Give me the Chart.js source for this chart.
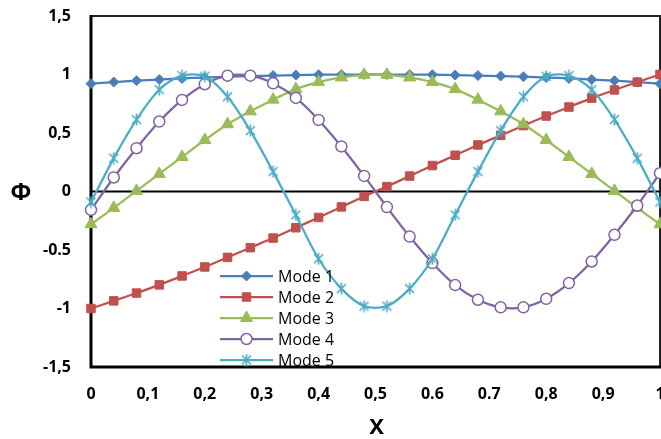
<!DOCTYPE html>
<html>
<head>
<meta charset="utf-8">
<script src="https://cdn.jsdelivr.net/npm/chart.js@4"></script>
<style>
html,body{margin:0;padding:0;background:#fff;}
#wrap{width:661px;height:439px;position:relative;}
</style>
</head>
<body>
<div id="wrap"><canvas id="c" width="661" height="439"></canvas></div>
<script>
// ---- data ----
const xValues = [0,0.04,0.08,0.12,0.16,0.2,0.24,0.28,0.32,0.36,0.4,0.44,0.48,0.52,0.56,0.6,0.64,0.68,0.72,0.76,0.8,0.84,0.88,0.92,0.96,1];
const mode1 = [0.922,0.935,0.947,0.957,0.966,0.974,0.981,0.987,0.991,0.995,0.998,0.999,1.0,1.0,0.999,0.998,0.995,0.991,0.987,0.981,0.974,0.966,0.957,0.947,0.935,0.922];
const mode2 = [-1.0,-0.935,-0.868,-0.798,-0.722,-0.645,-0.563,-0.48,-0.398,-0.31,-0.222,-0.132,-0.042,0.042,0.132,0.222,0.31,0.398,0.48,0.563,0.645,0.722,0.798,0.868,0.935,1.0];
const mode3 = [-0.28,-0.14,0.005,0.15,0.295,0.44,0.575,0.685,0.785,0.875,0.935,0.975,0.997,0.997,0.975,0.935,0.875,0.785,0.685,0.575,0.44,0.295,0.15,0.005,-0.14,-0.28];
const mode4 = [-0.157,0.12,0.37,0.598,0.783,0.917,0.99,0.99,0.925,0.80,0.612,0.385,0.133,-0.133,-0.385,-0.612,-0.80,-0.925,-0.99,-0.99,-0.917,-0.783,-0.598,-0.37,-0.12,0.157];
const mode5 = [-0.09,0.285,0.615,0.87,0.99,0.985,0.81,0.52,0.17,-0.2,-0.575,-0.83,-0.98,-0.98,-0.83,-0.575,-0.2,0.17,0.52,0.81,0.985,0.99,0.87,0.615,0.285,-0.09];
const seriesNames = ['Mode 1','Mode 2','Mode 3','Mode 4','Mode 5'];
const xTicks = [0,0.1,0.2,0.3,0.4,0.5,0.6,0.7,0.8,0.9,1];
const xTickLabels = ['0','0,1','0,2','0,3','0,4','0,5','0.6','0.7','0,8','0,9','1'];
const yTicks = [-1.5,-1,-0.5,0,0.5,1,1.5];
const yTickLabels = ['-1,5','-1','-0.5','0','0,5','1','1,5'];
const xTitle = 'X';
const yTitle = 'Φ';

// ---- styles ----
const colors = ['#4A7EBB','#C0504D','#9BBB59','#8064A2','#4BACC6'];
const FONT = '"Open Sans", "Noto Sans", sans-serif';
const TFONT = '"Noto Sans", "DejaVu Sans", sans-serif';

function starMarker(color){
  const c = document.createElement('canvas');
  c.width = 13; c.height = 13;
  const g = c.getContext('2d');
  g.strokeStyle = color; g.lineWidth = 1.6; g.lineCap = 'butt';
  g.beginPath();
  g.moveTo(2,2); g.lineTo(11,11);
  g.moveTo(11,2); g.lineTo(2,11);
  g.moveTo(6.5,0.5); g.lineTo(6.5,12.5);
  g.stroke();
  return c;
}

const allSeries = [mode1,mode2,mode3,mode4,mode5];
const markerStyles = [
  {pointStyle:'rectRot', radius:5, bg:colors[0]},
  {pointStyle:'rect', radius:6, bg:colors[1]},
  {pointStyle:'triangle', radius:7, bg:colors[2]},
  {pointStyle:'circle', radius:5.5, bg:'#ffffff'},
  {pointStyle:starMarker(colors[4]), radius:6.5, bg:colors[4]}
];

const datasets = allSeries.map((vals,i)=>({
  label: seriesNames[i],
  data: xValues.map((x,j)=>({x:x,y:vals[j]})),
  borderColor: colors[i],
  backgroundColor: markerStyles[i].bg,
  borderWidth: 2.25,
  pointStyle: markerStyles[i].pointStyle,
  pointRadius: markerStyles[i].radius,
  pointBorderColor: colors[i],
  pointBackgroundColor: markerStyles[i].bg,
  pointBorderWidth: i===3 ? 1.5 : 1,
  tension: 0.3,
  clip: false,
  order: 5 - i
}));

const framePlugin = {
  id:'frame',
  beforeDatasetsDraw(chart){
    const {ctx, chartArea:a, scales} = chart;
    const y0 = scales.y.getPixelForValue(0);
    ctx.save();
    ctx.strokeStyle = '#000';
    ctx.lineWidth = 2;
    ctx.beginPath(); ctx.moveTo(a.left, y0); ctx.lineTo(a.right, y0); ctx.stroke();
    ctx.strokeStyle = '#222';
    ctx.lineWidth = 2;
    ctx.beginPath();
    ctx.moveTo(a.left, a.top); ctx.lineTo(a.right, a.top); ctx.lineTo(a.right, a.bottom);
    ctx.stroke();
    ctx.strokeStyle = '#000';
    ctx.lineWidth = 3;
    ctx.beginPath();
    ctx.moveTo(a.left, a.top-1); ctx.lineTo(a.left, a.bottom); ctx.lineTo(a.right+1, a.bottom);
    ctx.stroke();
    ctx.restore();
  },
  afterDraw(chart){
    const {ctx, chartArea:a} = chart;
    ctx.save();
    ctx.fillStyle = '#000';
    ctx.font = 'bold 23px ' + TFONT;
    ctx.textAlign = 'center'; ctx.textBaseline = 'middle';
    ctx.fillText(yTitle, 21, 193);
    ctx.font = 'bold 22px ' + TFONT;
    ctx.fillText(xTitle, (a.left + a.right)/2 + 1, 428);
    // legend
    const lx0 = 220, lx1 = 273, ty = 276, step = 21;
    ctx.font = '16px ' + FONT;
    ctx.textAlign = 'left';
    chart.data.datasets.forEach((ds,i)=>{
      const y = ty + i*step;
      ctx.strokeStyle = ds.borderColor; ctx.lineWidth = 2.25;
      ctx.beginPath(); ctx.moveTo(lx0,y); ctx.lineTo(lx1,y); ctx.stroke();
      ctx.fillStyle = ds.pointBackgroundColor; ctx.strokeStyle = ds.pointBorderColor;
      ctx.lineWidth = ds.pointBorderWidth;
      Chart.helpers.drawPoint(ctx, {pointStyle: ds.pointStyle, radius: ds.pointRadius, borderWidth: ds.pointBorderWidth, rotation:0}, (lx0+lx1)/2, y);
      ctx.fillStyle = '#000';
      ctx.fillText(ds.label, 278, y+1);
    });
    ctx.restore();
  }
};

new Chart(document.getElementById('c'), {
  type:'line',
  data:{datasets},
  plugins:[framePlugin],
  options:{
    responsive:false,
    animation:false,
    events:[],
    layout:{autoPadding:false, padding:{top:16,right:1,left:0,bottom:0}},
    plugins:{legend:{display:false}, tooltip:{enabled:false}},
    scales:{
      x:{
        type:'linear', min:0, max:1,
        afterBuildTicks(s){ s.ticks = xTicks.map(v=>({value:v})); },
        afterFit(s){ s.height = 72; s.paddingLeft = 0; s.paddingRight = 0; },
        grid:{display:false, drawTicks:false},
        border:{display:false},
        ticks:{
          autoSkip:false, maxRotation:0, padding:18, color:'#000',
          font:{family:FONT, size:16, weight:'bold'},
          callback:(v,i)=>xTickLabels[i]
        }
      },
      y:{
        type:'linear', min:-1.5, max:1.5,
        afterBuildTicks(s){ s.ticks = yTicks.map(v=>({value:v})); },
        afterFit(s){ s.width = 91; s.paddingTop = 0; s.paddingBottom = 0; },
        grid:{display:false, drawTicks:false},
        border:{display:false},
        ticks:{
          autoSkip:false, padding:20, color:'#000',
          font:{family:FONT, size:16, weight:'bold'},
          callback:(v,i)=>yTickLabels[i]
        }
      }
    }
  }
});
</script>
</body>
</html>
